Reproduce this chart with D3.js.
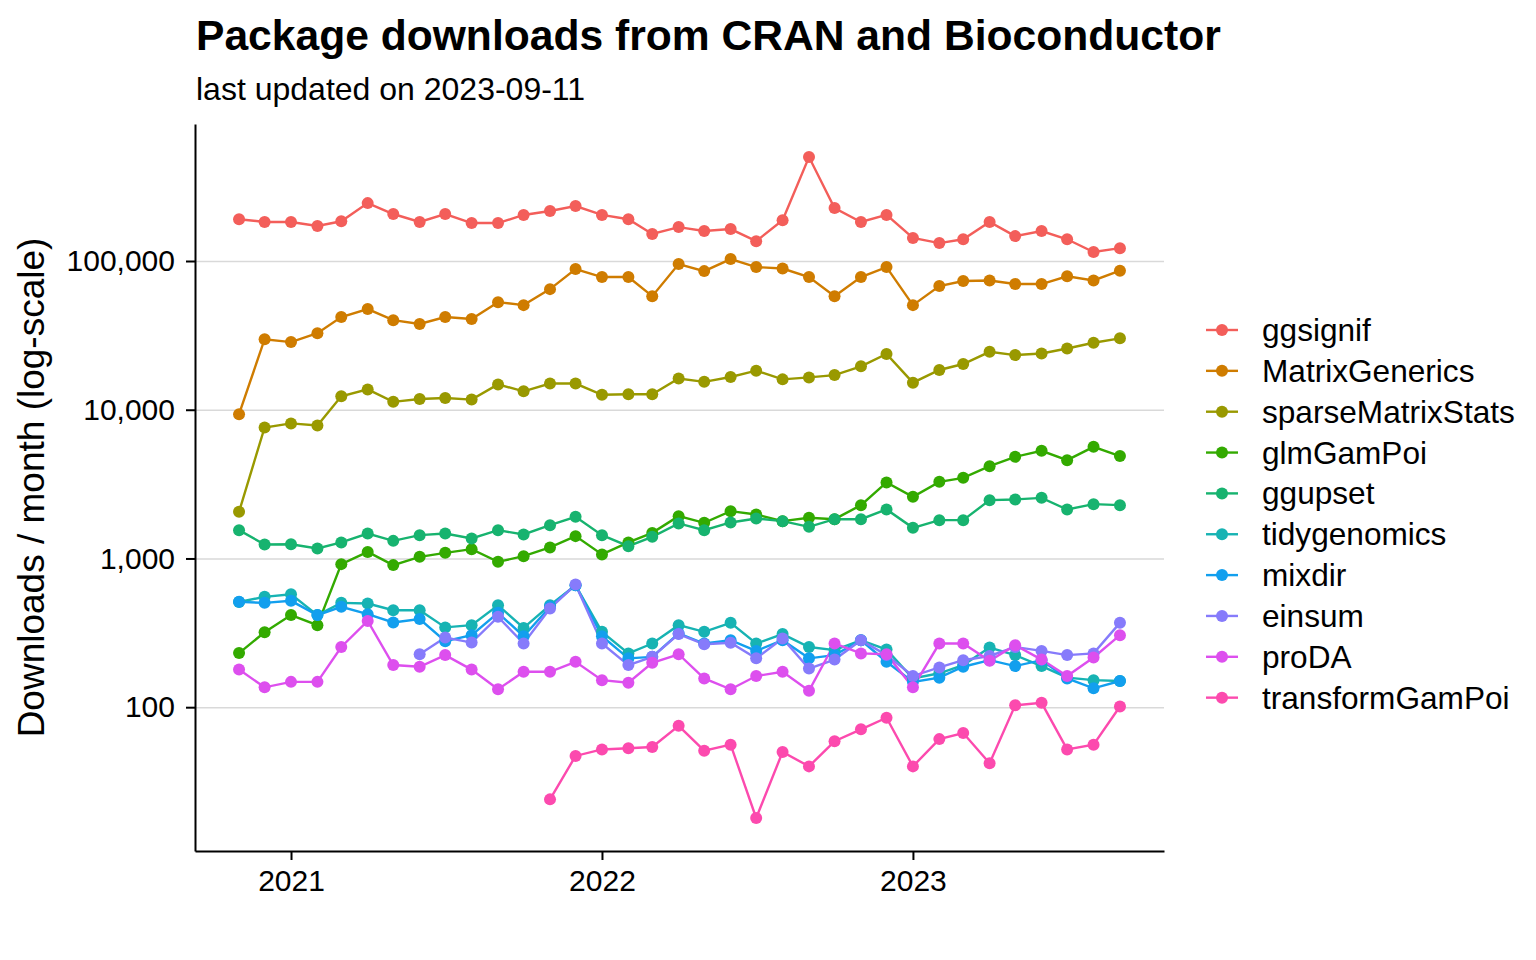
<!DOCTYPE html>
<html>
<head>
<meta charset="utf-8">
<script src="https://cdn.jsdelivr.net/npm/d3@7"></script>
<style>
  html, body { margin: 0; padding: 0; background: #fff; }
  svg { display: block; font-family: 'Liberation Sans', Arial, sans-serif; }
</style>
</head>
<body>
<div id="chart"></div>
<script>
const months = [
  '2020-11', '2020-12',
  '2021-01', '2021-02', '2021-03', '2021-04', '2021-05', '2021-06',
  '2021-07', '2021-08', '2021-09', '2021-10', '2021-11', '2021-12',
  '2022-01', '2022-02', '2022-03', '2022-04', '2022-05', '2022-06',
  '2022-07', '2022-08', '2022-09', '2022-10', '2022-11', '2022-12',
  '2023-01', '2023-02', '2023-03', '2023-04', '2023-05', '2023-06',
  '2023-07', '2023-08', '2023-09',
];

const packages = [
  'ggsignif', 'MatrixGenerics', 'sparseMatrixStats', 'glmGamPoi', 'ggupset',
  'tidygenomics', 'mixdir', 'einsum', 'proDA', 'transformGamPoi',
];

const colors = [
  '#F35E5A', '#CF7C00', '#999900', '#33AA00', '#17B36F',
  '#17B3B3', '#129FEE', '#867BFB', '#DD4FEE', '#FC4AAE',
];

// downloads per month, one value per entry in `months` (null = not yet released)
const ggsignif = [
  191000, 183000, 183000, 172000, 185000, 245000, 207000, 183000, 207000, 180000,
  180000, 204000, 217000, 234000, 204000, 191000, 152000, 169000, 159000, 164000,
  136000, 188000, 500000, 227000, 183000, 204000, 143000, 132000, 140000, 183000,
  147000, 159000, 140000, 115000, 122000,
];
const matrixGenerics = [
  9340, 29800, 28500, 32700, 42000, 47500, 40000, 37700, 42000, 40700,
  52900, 50500, 64700, 88300, 78000, 78000, 58000, 95300, 85500, 103000,
  91000, 89000, 78000, 58000, 78000, 91000, 50500, 67800, 73300, 74000,
  70000, 70000, 79000, 74000, 86000,
];
const sparseMatrixStats = [
  2060, 7600, 8090, 7840, 12300, 13700, 11300, 11800, 12000, 11700,
  14800, 13300, 15000, 15000, 12600, 12700, 12700, 16200, 15400, 16600,
  18300, 16000, 16500, 17100, 19600, 23700, 15200, 18500, 20300, 24500,
  23300, 23900, 25800, 28200, 30200,
];
const glmGamPoi = [
  231, 319, 416, 356, 916, 1107, 902, 1025, 1091, 1155,
  949, 1036, 1186, 1413, 1064, 1281, 1486, 1925, 1737, 2080,
  1977, 1782, 1876, 1837, 2282, 3245, 2596, 3275, 3484, 4176,
  4823, 5295, 4581, 5633, 4877,
];
const ggupset = [
  1550, 1242, 1245, 1167, 1281, 1472, 1313, 1435, 1472, 1362,
  1550, 1449, 1675, 1905, 1435, 1210, 1397, 1720, 1550, 1746,
  1858, 1782, 1631, 1837, 1837, 2135, 1607, 1810, 1810, 2466,
  2494, 2556, 2135, 2318, 2282,
];
const tidygenomics = [
  510, 552, 575, 416, 503, 498, 449, 449, 344, 356,
  485, 341, 485, 661, 321, 230, 268, 356, 321, 369,
  268, 310, 254, 242, 282, 244, 156, 169, 192, 252,
  224, 189, 158, 152, 150,
];
const mixdir = [
  511, 503, 519, 416, 473, 422, 371, 391, 278, 305,
  431, 300, 473, 661, 300, 213, 218, 313, 268, 282,
  239, 282, 213, 224, 282, 202, 148, 158, 187, 207,
  189, 207, 156, 134, 150,
];
const einsum = [
  null, null, null, null, null, null, null, 227, 294, 272,
  405, 268, 461, 668, 268, 192, 218, 310, 265, 271,
  213, 290, 182, 209, 282, 224, 162, 185, 207, 221,
  254, 239, 224, 230, 369,
];
const proDA = [
  179, 136, 148, 148, 254, 380, 192, 187, 224, 179,
  132, 173, 173, 202, 152, 146, 199, 227, 156, 132,
  162, 173, 129, 268, 230, 227, 136, 268, 268, 205,
  261, 209, 162, 216, 305,
];
const transformGamPoi = [
  null, null, null, null, null, null, null, null, null, null,
  null, null, 24, 47, 52, 53, 54, 75, 51, 56,
  18, 50, 40, 59, 71, 85, 40, 61, 67, 42,
  103, 107, 52, 56, 101,
];

const yTicks = [100, 1000, 10000, 100000];

const title = 'Package downloads from CRAN and Bioconductor';
const subtitle = 'last updated on 2023-09-11';
const yLabel = 'Downloads / month (log-scale)';

function buildSeries() {
  const values = [
    ggsignif, matrixGenerics, sparseMatrixStats, glmGamPoi, ggupset,
    tidygenomics, mixdir, einsum, proDA, transformGamPoi,
  ];
  const parseMonth = d3.timeParse('%Y-%m');

  return packages.map((name, i) => ({
    name,
    color: colors[i],
    points: months
      .map((m, j) => ({ date: parseMonth(m), value: values[i][j] }))
      .filter((d) => d.value != null),
  }));
}

function renderChart(series) {
  const width = 1536;
  const height = 960;
  const area = { left: 195, right: 1164, top: 124, bottom: 851 };

  const svg = d3
    .select('#chart')
    .append('svg')
    .attr('width', width)
    .attr('height', height);

  const allPoints = series.flatMap((s) => s.points);

  // ggplot-like 5% expansion on both axes
  const [t0, t1] = d3.extent(allPoints, (d) => d.date);
  const tPad = (t1 - t0) * 0.05;
  const xScale = d3
    .scaleTime()
    .domain([new Date(+t0 - tPad), new Date(+t1 + tPad)])
    .range([area.left, area.right]);

  const [v0, v1] = d3.extent(allPoints, (d) => Math.log10(d.value));
  const vPad = (v1 - v0) * 0.05;
  const yScale = d3
    .scaleLog()
    .domain([10 ** (v0 - vPad), 10 ** (v1 + vPad)])
    .range([area.bottom, area.top]);

  // gridlines
  svg
    .append('g')
    .attr('class', 'gridlines')
    .attr('transform', `translate(${area.left}, 0)`)
    .call(
      d3.axisLeft(yScale)
        .tickValues(yTicks)
        .tickFormat('')
        .tickSize(-(area.right - area.left))
        .tickSizeOuter(0),
    )
    .call((g) => g.select('.domain').remove())
    .call((g) => g.selectAll('line').attr('stroke', '#d9d9d9').attr('stroke-width', 1.4));

  const line = d3
    .line()
    .x((d) => xScale(d.date))
    .y((d) => yScale(d.value));

  svg
    .append('g')
    .attr('class', 'lines')
    .selectAll('path')
    .data(series)
    .join('path')
    .attr('d', (d) => line(d.points))
    .attr('fill', 'none')
    .attr('stroke', (d) => d.color)
    .attr('stroke-width', 2.4);

  svg
    .append('g')
    .attr('class', 'dots')
    .selectAll('g')
    .data(series)
    .join('g')
    .attr('fill', (d) => d.color)
    .selectAll('circle')
    .data((d) => d.points)
    .join('circle')
    .attr('cx', (d) => xScale(d.date))
    .attr('cy', (d) => yScale(d.value))
    .attr('r', 6);

  // axes
  const yAxis = svg
    .append('g')
    .attr('transform', `translate(${area.left}, 0)`)
    .call(
      d3.axisLeft(yScale)
        .tickValues(yTicks)
        .tickFormat(d3.format(','))
        .tickSize(9)
        .tickSizeOuter(0)
        .tickPadding(11),
    );

  const xAxis = svg
    .append('g')
    .attr('transform', `translate(0, ${area.bottom})`)
    .call(
      d3.axisBottom(xScale)
        .ticks(d3.timeYear.every(1))
        .tickFormat(d3.timeFormat('%Y'))
        .tickSize(9)
        .tickSizeOuter(0)
        .tickPadding(10),
    );

  for (const axis of [xAxis, yAxis]) {
    axis.select('.domain').attr('stroke', '#000').attr('stroke-width', 2);
    axis.selectAll('.tick line').attr('stroke', '#000').attr('stroke-width', 2);
    axis
      .selectAll('.tick text')
      .attr('fill', '#000')
      .style('font-size', '30px')
      .style('font-family', "'Liberation Sans', Arial, sans-serif");
  }

  // titles
  svg
    .append('text')
    .attr('x', 196)
    .attr('y', 50)
    .style('font-size', '42.6px')
    .style('font-weight', 'bold')
    .text(title);

  svg
    .append('text')
    .attr('x', 196)
    .attr('y', 100)
    .style('font-size', '32px')
    .text(subtitle);

  svg
    .append('text')
    .attr('transform', `translate(44, ${(area.top + area.bottom) / 2}) rotate(-90)`)
    .attr('text-anchor', 'middle')
    .style('font-size', '37px')
    .text(yLabel);

  // legend
  const legend = svg
    .append('g')
    .attr('class', 'legend')
    .attr('transform', 'translate(1206, 330)');

  const rows = legend
    .selectAll('g')
    .data(series)
    .join('g')
    .attr('transform', (d, i) => `translate(0, ${i * 40.85})`);

  rows
    .append('line')
    .attr('x1', 0)
    .attr('x2', 32)
    .attr('stroke', (d) => d.color)
    .attr('stroke-width', 2.4);

  rows
    .append('circle')
    .attr('cx', 16)
    .attr('r', 6)
    .attr('fill', (d) => d.color);

  rows
    .append('text')
    .attr('x', 56)
    .attr('dy', '0.35em')
    .style('font-size', '31.6px')
    .text((d) => d.name);
}

renderChart(buildSeries());
</script>
</body>
</html>
